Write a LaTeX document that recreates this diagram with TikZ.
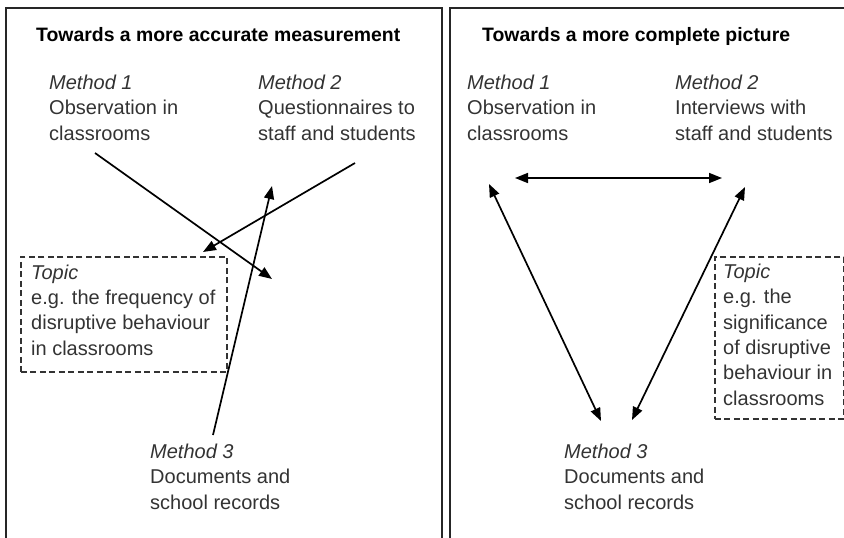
\documentclass[tikz,border=0pt]{standalone}
\usepackage{fontspec}
\setmainfont{Liberation Sans}
\usetikzlibrary{arrows.meta}
\begin{document}
\begin{tikzpicture}[x=1pt,y=-1pt,
    txt/.style={anchor=base west,inner sep=0pt,align=left,text=black!80,
      font=\fontsize{20}{25.3}\selectfont},
    heading/.style={anchor=base west,inner sep=0pt,font=\fontsize{19.4}{24}\selectfont\bfseries},
    topicbox/.style={draw=black!80,dash pattern=on 6pt off 3.5pt,line width=1.8pt,
      anchor=north west,inner sep=0pt},
    link/.style={line width=1.7pt,-{Triangle[length=13pt,width=10pt]}},
    twoway/.style={line width=1.7pt,{Triangle[length=13pt,width=10pt]}-{Triangle[length=13pt,width=10pt]}}]
    \useasboundingbox (0,0) rectangle (844,538);

    % Panels
    \draw[line width=2.2pt,black!85] (6,538) -- (6,8) -- (442,8) -- (442,538);
    \draw[line width=2.2pt,black!85] (450,538) -- (450,8) -- (844,8);

    % Left panel: more accurate measurement
    % (a multi-line node sits on the baseline of its last line)
    \node[heading] (ltitle) at (36,41) {Towards a more accurate measurement};
    \node[txt] (lm1) at (49,140) {\textit{Method 1}\\Observation in\\classrooms};
    \node[txt] (lm2) at (258,140) {\textit{Method 2}\\Questionnaires to\\staff and students};
    \node[txt] (lm3) at (150,509) {\textit{Method 3}\\Documents and\\school records};
    \node[topicbox,minimum width=206pt,minimum height=115pt] (lbox) at (20,256) {};
    \node[txt] (ltopic) at (31,355) {\textit{Topic}\\e.g. the frequency of\\disruptive behaviour\\in classrooms};

    \coordinate (l1a) at (95,153);
    \coordinate (l1b) at (272,279);
    \coordinate (l2a) at (355,163);
    \coordinate (l2b) at (203,252);
    \coordinate (l3a) at (213,435);
    \coordinate (l3b) at (272,186);
    \draw[link] (l1a) -- (l1b);
    \draw[link] (l2a) -- (l2b);
    \draw[link] (l3a) -- (l3b);

    % Right panel: more complete picture
    \node[heading] (rtitle) at (482,41) {Towards a more complete picture};
    \node[txt] (rm1) at (467,140) {\textit{Method 1}\\Observation in\\classrooms};
    \node[txt] (rm2) at (675,140) {\textit{Method 2}\\Interviews with\\staff and students};
    \node[txt] (rm3) at (564,509) {\textit{Method 3}\\Documents and\\school records};
    \node[topicbox,minimum width=129pt,minimum height=162pt] (rbox) at (714,256) {};
    \node[txt] (rtopic) at (723,405) {\textit{Topic}\\e.g. the\\significance\\of disruptive\\behaviour in\\classrooms};

    \coordinate (r12a) at (515,178);
    \coordinate (r12b) at (722,178);
    \coordinate (r13a) at (489,184);
    \coordinate (r13b) at (601,421);
    \coordinate (r23a) at (745,187);
    \coordinate (r23b) at (632,420);
    \draw[twoway] (r12a) -- (r12b);
    \draw[twoway] (r13a) -- (r13b);
    \draw[twoway] (r23a) -- (r23b);
\end{tikzpicture}
\end{document}
